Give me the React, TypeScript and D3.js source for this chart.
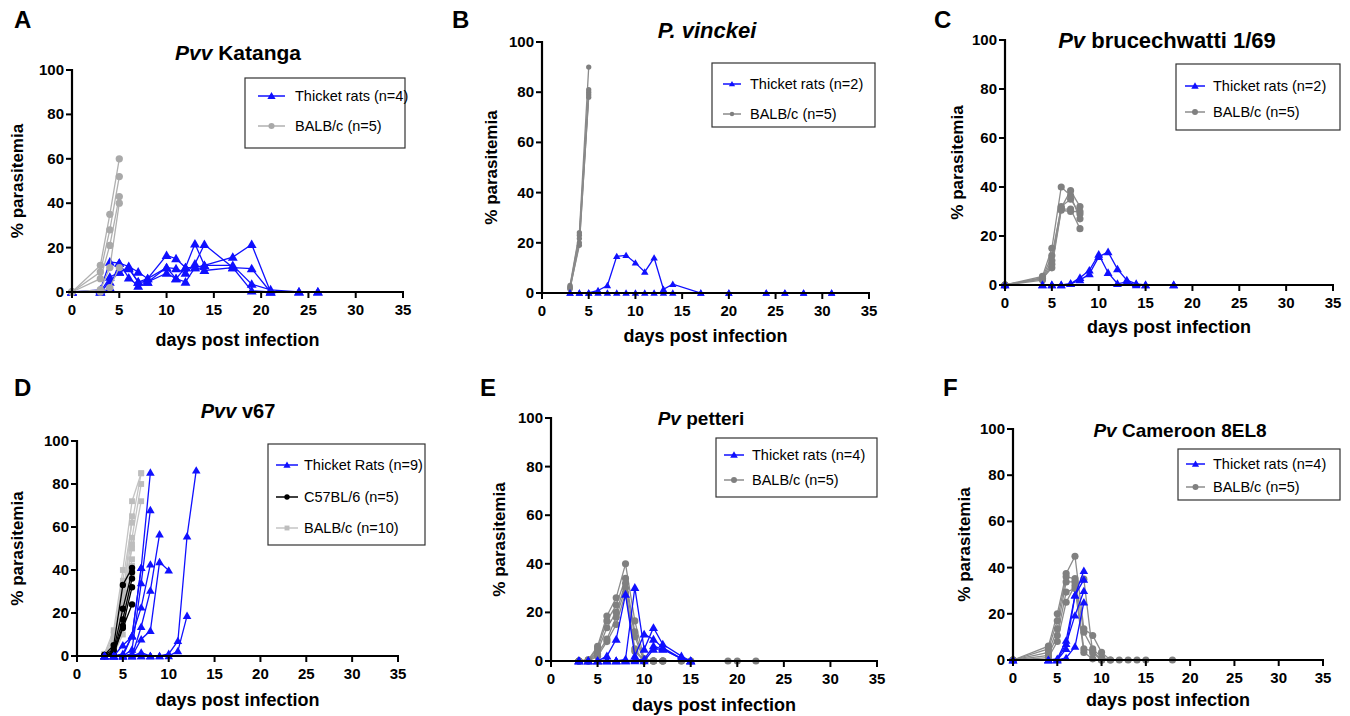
import React from "react";
import * as d3 from "d3";

type Pt = [number, number];

// ---- A: Pvv Katanga ----
const katangaRats: Pt[][] = [
  [[0, 0], [3, 1], [4, 13.5], [5, 13], [6, 11.5], [7, 9], [8, 6], [10, 16.5], [11, 15], [12, 11], [13, 21.7], [14, 12], [17, 12], [19, 3.5], [21, 1], [24, 0], [26, 0]],
  [[0, 0], [3, 0], [4, 6.7], [5, 9], [6, 10.5], [7, 4.5], [8, 6], [10, 11], [11, 10.5], [12, 8.5], [13, 12.7], [14, 21.4], [17, 11], [19, 0.5], [21, 0]],
  [[0, 0], [3, 0], [4, 2], [5, 13], [6, 6.4], [7, 2.7], [8, 4.5], [10, 8.5], [11, 6], [12, 4.5], [13, 11], [14, 12], [17, 15.7], [19, 21.4], [21, 0]],
  [[0, 0], [3, 0], [4, 4.5], [5, 9], [6, 11], [7, 4.5], [8, 4.5], [10, 11], [11, 6], [12, 11], [13, 11], [14, 9.7], [17, 11], [19, 10.5], [21, 0], [24, 0], [26, 0]],
];
const katangaBalb: Pt[][] = [
  [[0, 0], [3, 12], [4, 35], [5, 60]],
  [[0, 0], [3, 9], [4, 28], [5, 52]],
  [[0, 0], [3, 6], [4, 21], [5, 43]],
  [[0, 0], [3, 1], [4, 11], [5, 40]],
  [[0, 0], [3, 0], [4, 2], [5, 11]],
];

// ---- B: P. vinckei ----
const vinckeiRats: Pt[][] = [
  [[3, 0], [4, 0], [5, 0], [6, 1], [7, 3], [8, 14.6], [9, 15], [10, 12], [11, 8.4], [12, 14], [13, 1.5], [14, 3.5], [17, 0], [20, 0], [24, 0], [26, 0], [28, 0], [31, 0]],
  [[3, 0], [4, 0], [5, 0], [6, 0], [7, 0], [8, 0], [9, 0], [10, 0], [11, 0], [12, 0], [13, 0], [14, 0], [17, 0], [20, 0], [24, 0], [26, 0], [28, 0], [31, 0]],
];
const vinckeiBalb: Pt[][] = [
  [[3, 3], [4, 24], [5, 90]],
  [[3, 2.5], [4, 23], [5, 81]],
  [[3, 2], [4, 21.7], [5, 80]],
  [[3, 2], [4, 19], [5, 79]],
  [[3, 1.5], [4, 20], [5, 78]],
];

// ---- C: Pv brucechwatti 1/69 ----
const bruceRats: Pt[][] = [
  [[0, 0], [4, 0], [5, 0], [6, 0], [7, 0.5], [8, 2], [9, 4.5], [10, 11.5], [11, 13.5], [12, 6.5], [13, 2], [14, 0.5], [15, 0], [18, 0]],
  [[0, 0], [4, 0], [5, 0], [6, 0], [7, 0.5], [8, 3], [9, 6], [10, 12.5], [11, 5], [12, 0.5], [13, 1.3], [14, 0], [15, 0], [18, 0]],
];
const bruceBalb: Pt[][] = [
  [[0, 0], [4, 3.5], [5, 15], [6, 40], [7, 36.5], [8, 27]],
  [[0, 0], [4, 3], [5, 12], [6, 31.5], [7, 38.5], [8, 32]],
  [[0, 0], [4, 2.5], [5, 10], [6, 32], [7, 35], [8, 29]],
  [[0, 0], [4, 2], [5, 8.5], [6, 31], [7, 31], [8, 23]],
  [[0, 0], [4, 2.7], [5, 7], [6, 30.5], [7, 30], [8, 30]],
];

// ---- D: Pvv v67 ----
const v67Rats: Pt[][] = [
  [[3, 0], [4, 0], [5, 1], [6, 9.4], [7, 41], [8, 85.3]],
  [[3, 0], [4, 0], [5, 0], [6, 3], [7, 33.9], [8, 67.9]],
  [[3, 0], [4, 0], [5, 0], [6, 9.4], [7, 22.6], [8, 42.6]],
  [[3, 0], [4, 0], [5, 0], [6, 0], [7, 13.6], [8, 30.4], [9, 56.6]],
  [[3, 0], [4, 0], [5, 0], [6, 0], [7, 7.8], [8, 11.7], [9, 43.7], [10, 39.8]],
  [[3, 0], [4, 0], [5, 0], [6, 0], [7, 1.6], [8, 0], [9, 0], [10, 1], [11, 7], [12, 55.7], [13, 86.3]],
  [[3, 0], [4, 0], [5, 0], [6, 0], [7, 0], [8, 0], [9, 0], [10, 0], [11, 2.3], [12, 18.7]],
  [[3, 0], [4, 0], [5, 5], [6, 9], [7, 41]],
  [[3, 0], [4, 0], [5, 0], [6, 1], [7, 0], [8, 0]],
];
const v67C57: Pt[][] = [
  [[3, 0.5], [4, 5], [5, 33], [6, 41]],
  [[3, 0.5], [4, 3], [5, 22], [6, 39]],
  [[3, 0], [4, 2], [5, 17], [6, 36]],
  [[3, 0], [4, 1.5], [5, 14], [6, 32]],
  [[3, 0], [4, 1], [5, 13], [6, 24]],
];
const v67Balb: Pt[][] = [
  [[3, 1], [4, 12], [5, 40], [6, 72], [7, 85]],
  [[3, 1], [4, 10], [5, 35], [6, 62], [7, 85]],
  [[3, 0.5], [4, 8], [5, 30], [6, 55], [7, 80]],
  [[3, 0.5], [4, 6], [5, 28], [6, 50], [7, 72]],
  [[3, 0], [4, 5], [5, 25], [6, 65]],
  [[3, 0], [4, 4], [5, 22], [6, 52]],
  [[3, 0], [4, 3], [5, 20], [6, 45]],
  [[3, 0], [4, 2], [5, 18], [6, 42]],
  [[3, 0], [4, 2], [5, 15], [6, 40]],
  [[3, 0], [4, 1], [5, 10], [6, 38]],
];

// ---- E: Pv petteri ----
const petteriRats: Pt[][] = [
  [[3, 0], [4, 0], [5, 0], [6, 2], [7, 8.9], [8, 27.4], [9, 2], [10, 11], [11, 8.9], [12, 5.5], [14, 1], [15, 0]],
  [[3, 0], [4, 0], [5, 0], [6, 0], [7, 0], [8, 0.7], [9, 30.2], [10, 4.8], [11, 13.7], [12, 6.9], [14, 2], [15, 0]],
  [[3, 0], [4, 0], [5, 0], [6, 0], [7, 0], [8, 0], [9, 0.5], [10, 0.7], [11, 6.2], [12, 4.8], [14, 1], [15, 0]],
  [[3, 0], [4, 0], [5, 0], [6, 0], [7, 0], [8, 0], [9, 0], [10, 0], [11, 4.8], [12, 5], [14, 1], [15, 0]],
];
const petteriBalb: Pt[][] = [
  [[3, 0], [4, 0.5], [5, 6], [6, 18.5], [7, 26], [8, 40], [9, 16.5], [10, 1], [11, 0], [12, 0], [14, 0], [15, 0]],
  [[3, 0], [4, 0.5], [5, 5], [6, 16.5], [7, 23], [8, 34], [9, 12], [10, 0.5], [11, 0], [12, 0], [14, 0]],
  [[3, 0], [4, 0], [5, 4], [6, 13.7], [7, 20], [8, 32], [9, 10], [10, 0], [11, 0], [12, 0]],
  [[3, 0], [4, 0], [5, 3], [6, 9], [7, 18], [8, 30], [9, 5], [10, 0], [11, 0], [12, 0]],
  [[3, 0], [4, 0], [5, 2], [6, 8], [7, 15], [8, 28], [9, 4], [10, 0], [11, 0], [15, 0], [19, 0], [20, 0], [22, 0]],
];

// ---- F: Pv Cameroon 8EL8 ----
const cameroonRats: Pt[][] = [
  [[0, 0], [4, 0], [5, 0.5], [6, 8.4], [7, 28], [8, 38.6]],
  [[0, 0], [4, 0], [5, 0], [6, 4.8], [7, 28], [8, 34.8]],
  [[0, 0], [4, 0], [5, 0], [6, 7], [7, 19.3], [8, 29.9]],
  [[0, 0], [4, 0], [5, 0], [6, 0.9], [7, 5.8], [8, 25]],
];
const cameroonBalb: Pt[][] = [
  [[0, 0], [4, 6], [5, 20], [6, 37.4], [7, 44.9], [8, 13.5], [9, 10.6], [10, 3.3], [11, 0], [12, 0], [13, 0], [14, 0], [15, 0], [18, 0]],
  [[0, 0], [4, 4.8], [5, 17], [6, 36], [7, 35.2], [8, 12], [9, 4.8], [10, 1.2], [11, 0]],
  [[0, 0], [4, 3.3], [5, 13.5], [6, 33.8], [7, 33.8], [8, 4.8], [9, 4], [10, 0]],
  [[0, 0], [4, 2], [5, 10.6], [6, 29.4], [7, 30.9], [8, 3.3], [9, 0.5], [10, 0]],
  [[0, 0], [4, 1], [5, 8], [6, 25], [7, 32.3], [8, 35], [9, 3], [10, 0]],
];

const xTicks = [0, 5, 10, 15, 20, 25, 30, 35];
const yTicks = [0, 20, 40, 60, 80, 100];

const FONT = "'Liberation Sans', Arial, Helvetica, sans-serif";
const BLUE = "#1010ff";

type Shape = "triangle" | "circle" | "square";
interface Group { label: string; data: Pt[][]; color: string; lineColor: string; shape: Shape; size: number }

interface PanelCfg {
  letter: string; lx: number; ly: number;
  title: [string, boolean][]; tx: number; ty: number; tsize: number;
  x: [number, number]; y: [number, number];
  ylabX: number; xlabY: number;
  legend: { x: number; y: number; w: number; h: number; rows: number[]; textDx: number; lineDx: [number, number] };
  groups: Group[]; // in legend order
  drawOrder: number[];
}

const symbolType = (s: Shape) => (s === "triangle" ? d3.symbolTriangle : s === "circle" ? d3.symbolCircle : d3.symbolSquare);

function Marker({ shape, size, color, x, y }: { shape: Shape; size: number; color: string; x: number; y: number }) {
  const p = d3.symbol(symbolType(shape), size)() || "";
  const dy = shape === "triangle" ? Math.sqrt(size) * 0.12 : 0;
  return <path d={p} transform={`translate(${x},${y + dy})`} fill={color} />;
}

const panels: PanelCfg[] = [
  {
    letter: "A", lx: 14, ly: 28, title: [["Pvv", true], [" Katanga", false]], tx: 238, ty: 60, tsize: 21,
    x: [72, 403], y: [292, 70], ylabX: 23, xlabY: 346,
    legend: { x: 245, y: 78, w: 160, h: 70, rows: [96, 126], textDx: 50, lineDx: [13, 40] },
    groups: [
      { label: "Thicket rats (n=4)", data: katangaRats, color: BLUE, lineColor: BLUE, shape: "triangle", size: 42 },
      { label: "BALB/c (n=5)", data: katangaBalb, color: "#a9a9a9", lineColor: "#b0b0b0", shape: "circle", size: 42 },
    ],
    drawOrder: [0, 1],
  },
  {
    letter: "B", lx: 452, ly: 28, title: [["P. vinckei", true]], tx: 707, ty: 38, tsize: 22,
    x: [542, 869], y: [293, 42], ylabX: 497, xlabY: 342,
    legend: { x: 712, y: 63, w: 163, h: 64, rows: [84, 114], textDx: 38, lineDx: [11, 29] },
    groups: [
      { label: "Thicket rats (n=2)", data: vinckeiRats, color: BLUE, lineColor: BLUE, shape: "triangle", size: 24 },
      { label: "BALB/c (n=5)", data: vinckeiBalb, color: "#7f7f7f", lineColor: "#8a8a8a", shape: "circle", size: 22 },
    ],
    drawOrder: [1, 0],
  },
  {
    letter: "C", lx: 934, ly: 28, title: [["Pv", true], [" brucechwatti 1/69", false]], tx: 1167, ty: 48, tsize: 22,
    x: [1005, 1333], y: [285, 40], ylabX: 963, xlabY: 333,
    legend: { x: 1176, y: 64, w: 164, h: 66, rows: [86, 112], textDx: 37, lineDx: [9, 29] },
    groups: [
      { label: "Thicket rats (n=2)", data: bruceRats, color: BLUE, lineColor: BLUE, shape: "triangle", size: 34 },
      { label: "BALB/c (n=5)", data: bruceBalb, color: "#808080", lineColor: "#8c8c8c", shape: "circle", size: 40 },
    ],
    drawOrder: [1, 0],
  },
  {
    letter: "D", lx: 14, ly: 396, title: [["Pvv", true], [" v67", false]], tx: 238, ty: 418, tsize: 20,
    x: [77, 398], y: [656, 441], ylabX: 23, xlabY: 706,
    legend: { x: 268, y: 444, w: 157, h: 101, rows: [465, 497, 528], textDx: 36, lineDx: [8, 30] },
    groups: [
      { label: "Thicket Rats (n=9)", data: v67Rats, color: BLUE, lineColor: BLUE, shape: "triangle", size: 32 },
      { label: "C57BL/6 (n=5)", data: v67C57, color: "#000000", lineColor: "#000000", shape: "circle", size: 32 },
      { label: "BALB/c (n=10)", data: v67Balb, color: "#bdbdbd", lineColor: "#c4c4c4", shape: "square", size: 34 },
    ],
    drawOrder: [2, 1, 0],
  },
  {
    letter: "E", lx: 480, ly: 396, title: [["Pv", true], [" petteri", false]], tx: 701, ty: 425, tsize: 19,
    x: [551, 877], y: [661, 418], ylabX: 505, xlabY: 711,
    legend: { x: 716, y: 438, w: 161, h: 59, rows: [455, 480], textDx: 36, lineDx: [8, 28] },
    groups: [
      { label: "Thicket rats (n=4)", data: petteriRats, color: BLUE, lineColor: BLUE, shape: "triangle", size: 36 },
      { label: "BALB/c (n=5)", data: petteriBalb, color: "#808080", lineColor: "#8c8c8c", shape: "circle", size: 40 },
    ],
    drawOrder: [1, 0],
  },
  {
    letter: "F", lx: 943, ly: 396, title: [["Pv", true], [" Cameroon 8EL8", false]], tx: 1180, ty: 437, tsize: 19,
    x: [1013, 1323], y: [660, 429], ylabX: 970, xlabY: 706,
    legend: { x: 1178, y: 449, w: 162, h: 51, rows: [464, 487], textDx: 35, lineDx: [8, 27] },
    groups: [
      { label: "Thicket rats (n=4)", data: cameroonRats, color: BLUE, lineColor: BLUE, shape: "triangle", size: 32 },
      { label: "BALB/c (n=5)", data: cameroonBalb, color: "#808080", lineColor: "#8c8c8c", shape: "circle", size: 40 },
    ],
    drawOrder: [1, 0],
  },
];

function Panel({ cfg }: { cfg: PanelCfg }) {
  const xs = d3.scaleLinear().domain([0, 35]).range(cfg.x);
  const ys = d3.scaleLinear().domain([0, 100]).range(cfg.y);
  const line = d3.line<Pt>().x(d => xs(d[0])).y(d => ys(d[1]));
  const x0 = cfg.x[0];
  const y0 = cfg.y[0];
  const lg = cfg.legend;
  return (
    <g fontFamily={FONT}>
      <text x={cfg.lx} y={cfg.ly} fontSize={24} fontWeight="bold">{cfg.letter}</text>
      <text x={cfg.tx} y={cfg.ty} fontSize={cfg.tsize} fontWeight="bold" textAnchor="middle">
        {cfg.title.map(([t, it], i) => (
          <tspan key={i} fontStyle={it ? "italic" : "normal"}>{t}</tspan>
        ))}
      </text>

      {/* data */}
      {cfg.drawOrder.map(gi => {
        const g = cfg.groups[gi];
        return (
          <g key={gi}>
            {g.data.map((animal, ai) => (
              <path key={ai} d={line(animal) || ""} fill="none" stroke={g.lineColor} strokeWidth={1.3} />
            ))}
            {g.data.map((animal, ai) =>
              animal.map((p, pi) => (
                <Marker key={`${ai}-${pi}`} shape={g.shape} size={g.size} color={g.color} x={xs(p[0])} y={ys(p[1])} />
              ))
            )}
          </g>
        );
      })}

      {/* axes */}
      <line x1={x0} x2={x0} y1={ys(100) - 1} y2={y0 + 1} stroke="#000" strokeWidth={2.2} />
      <line x1={x0 - 1} x2={xs(35) + 1} y1={y0} y2={y0} stroke="#000" strokeWidth={2.2} />
      {yTicks.map(t => (
        <g key={t}>
          <line x1={x0 - 6} x2={x0} y1={ys(t)} y2={ys(t)} stroke="#000" strokeWidth={2} />
          <text x={x0 - 8} y={ys(t) + 5} fontSize={15} fontWeight="bold" textAnchor="end">{t}</text>
        </g>
      ))}
      {xTicks.map(t => (
        <g key={t}>
          <line x1={xs(t)} x2={xs(t)} y1={y0} y2={y0 + 6} stroke="#000" strokeWidth={2} />
          <text x={xs(t)} y={y0 + 23} fontSize={15} fontWeight="bold" textAnchor="middle">{t}</text>
        </g>
      ))}
      <text x={(x0 + xs(35)) / 2} y={cfg.xlabY} fontSize={18} fontWeight="bold" textAnchor="middle">days post infection</text>
      <text transform={`translate(${cfg.ylabX},${(y0 + ys(100)) / 2}) rotate(-90)`} fontSize={17} fontWeight="bold" textAnchor="middle">% parasitemia</text>

      {/* legend */}
      <rect x={lg.x} y={lg.y} width={lg.w} height={lg.h} fill="#fff" stroke="#333" strokeWidth={1.2} />
      {cfg.groups.map((g, i) => {
        const ry = lg.rows[i];
        const a = lg.x + lg.lineDx[0];
        const b = lg.x + lg.lineDx[1];
        return (
          <g key={i}>
            <line x1={a} x2={b} y1={ry} y2={ry} stroke={g.lineColor} strokeWidth={1.5} />
            <Marker shape={g.shape} size={g.size * 0.7} color={g.color} x={(a + b) / 2} y={ry} />
            <text x={lg.x + lg.textDx} y={ry + 5} fontSize={14.5}>{g.label}</text>
          </g>
        );
      })}
    </g>
  );
}

export default function App() {
  return (
    <svg width={1350} height={716} style={{ position: "absolute", left: 0, top: 0, background: "#fff" }}>
      <rect width={1350} height={716} fill="#fff" />
      {panels.map(p => (
        <Panel key={p.letter} cfg={p} />
      ))}
    </svg>
  );
}
